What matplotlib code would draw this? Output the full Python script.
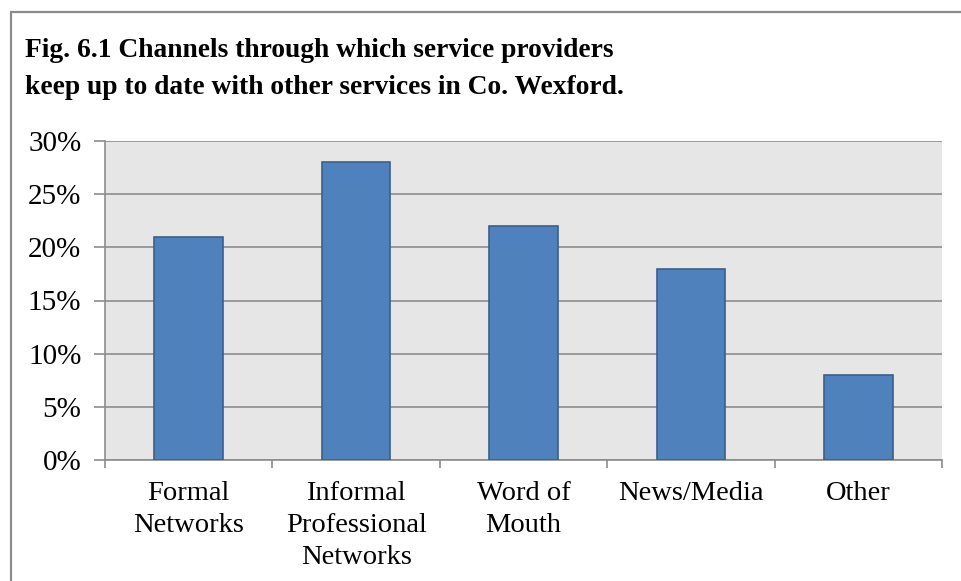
import matplotlib.pyplot as plt
from matplotlib.patches import Rectangle
from matplotlib.ticker import FuncFormatter, FixedLocator

categories = ["Formal\nNetworks", "Informal\nProfessional\nNetworks", "Word of\nMouth",
              "News/Media", "Other"]
shares = [21, 28, 22, 18, 8]
y_ticks = [0, 5, 10, 15, 20, 25, 30]
title_lines = ["Fig. 6.1 Channels through which service providers",
               "keep up to date with other services in Co. Wexford."]

plt.rcParams['font.family'] = ['Liberation Serif', 'DejaVu Serif']

fig = plt.figure(figsize=(9.62, 5.81), dpi=100)
W, H = 962, 581

# outer frame of the figure box
fig.patches.append(Rectangle((10.5 / W, -0.1), 1.2, 1 - 11.5 / H + 0.1,
                             transform=fig.transFigure, fill=False,
                             edgecolor='#8c8c8c', linewidth=1.6))

for i, line in enumerate(title_lines):
    fig.text(25 / W, 1 - (57 + 37 * i) / H, line, ha='left', va='baseline',
             fontsize=19.8, fontweight='bold')

ax = fig.add_axes([105 / W, 1 - 460 / H, 837 / W, 319 / H])
ax.set_facecolor('#e6e6e6')

x = range(len(categories))
ax.bar(x, shares, width=0.41, color='#4f81bd', edgecolor='#3a5f8b', linewidth=1.2, zorder=3)

ax.set_xlim(-0.5, len(categories) - 0.5)
ax.set_ylim(0, 30)
ax.yaxis.set_major_locator(FixedLocator(y_ticks))
ax.yaxis.set_major_formatter(FuncFormatter(lambda v, p: f"{v:.0f}%"))
ax.grid(axis='y', color='#8c8c8c', linewidth=1.2, zorder=1)

ax.set_xticks(list(x))
ax.set_xticklabels(categories, fontsize=20.5, linespacing=1.36)
ax.tick_params(axis='x', length=0, pad=15)
# category boundary ticks
ax.set_xticks([i - 0.5 for i in range(len(categories) + 1)], minor=True)
ax.tick_params(axis='x', which='minor', length=6, width=1.2, color='#8c8c8c', direction='out')
ax.tick_params(axis='y', length=8, width=1.2, color='#8c8c8c', labelsize=21, pad=9)

for side in ['top', 'right']:
    ax.spines[side].set_visible(False)
ax.spines['left'].set_color('#8c8c8c')
ax.spines['bottom'].set_color('#8c8c8c')
ax.spines['left'].set_linewidth(1.2)
ax.spines['bottom'].set_linewidth(1.2)

fig.savefig('out.png', dpi=100)
